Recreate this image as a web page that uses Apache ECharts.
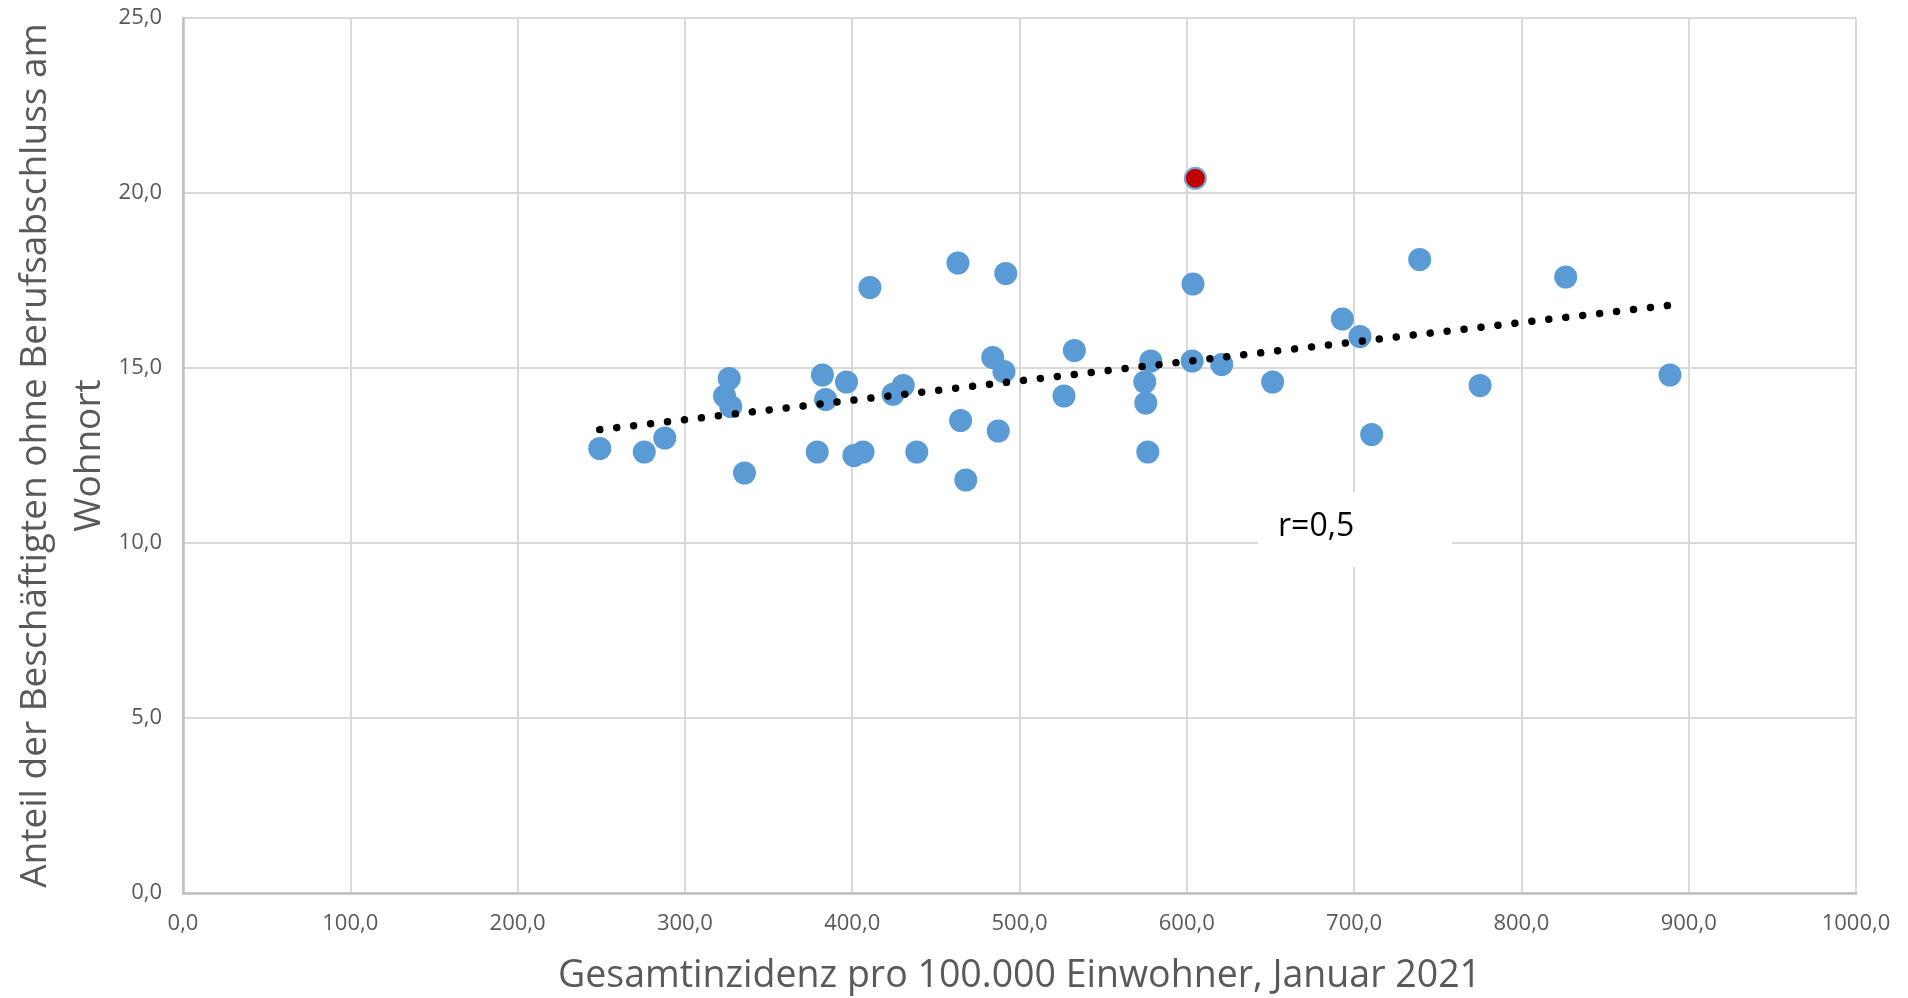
<!DOCTYPE html>
<html>
<head>
<meta charset="utf-8">
<script src="https://cdn.jsdelivr.net/npm/echarts@6/dist/echarts.min.js"></script>
<style>
html,body{margin:0;padding:0;background:#fff;}
#chart{width:1908px;height:998px;}
</style>
</head>
<body>
<div id="chart"></div>
<script>
// Gesamtinzidenz pro 100.000 Einwohner, Januar 2021
const incidence = [249.1, 275.7, 288.0, 323.7, 326.5, 327.4, 335.6, 379.1, 382.2, 384.1,
  396.6, 401.0, 406.5, 410.6, 424.4, 430.5, 438.6, 463.2, 464.8, 467.9,
  484.0, 487.3, 490.7, 491.8, 526.6, 532.8, 574.9, 575.5, 576.7, 578.5,
  603.7, 603.2, 620.9, 651.3, 693.0, 703.5, 710.5, 739.2, 775.3, 826.5, 888.8];
// Anteil der Beschäftigten ohne Berufsabschluss am Wohnort
const share = [12.7, 12.6, 13.0, 14.2, 14.7, 13.9, 12.0, 12.6, 14.8, 14.1,
  14.6, 12.5, 12.6, 17.3, 14.25, 14.5, 12.6, 18.0, 13.5, 11.8,
  15.3, 13.2, 14.9, 17.7, 14.2, 15.5, 14.6, 14.0, 12.6, 15.2,
  17.4, 15.2, 15.1, 14.6, 16.4, 15.9, 13.1, 18.1, 14.5, 17.6, 14.8];
// highlighted district (red)
const highlightIncidence = [605.1];
const highlightShare = [20.42];
// linear trend line endpoints
const trendIncidence = [249.1, 888.3];
const trendShare = [13.24, 16.79];
const correlationLabel = 'r=0,5';

const xTitle = 'Gesamtinzidenz pro 100.000 Einwohner, Januar 2021';
const yTitle = 'Anteil der Beschäftigten ohne Berufsabschluss am\nWohnort';

const FONT = '"Open Sans", "Liberation Sans", sans-serif';
const fmt = v => v.toFixed(1).replace('.', ',');

const chart = echarts.init(document.getElementById('chart'), null, {renderer: 'canvas'});

const pts = incidence.map((x, i) => [x, share[i]]);
const hiPts = highlightIncidence.map((x, i) => ({
  value: [x, highlightShare[i]],
  symbolSize: 21,
  itemStyle: {color: '#C00000', borderColor: '#6FA8DC', borderWidth: 2}
}));

const option = {
  animation: false,
  backgroundColor: '#ffffff',
  grid: {left: 183, right: 52, top: 18, bottom: 105, containLabel: false, outerBoundsMode: 'none'},
  xAxis: {
    type: 'value', min: 0, max: 1000, interval: 100,
    name: xTitle, nameLocation: 'middle', nameGap: 64, nameMoveOverlap: false,
    nameTextStyle: {fontFamily: FONT, fontSize: 37.5, color: '#595959'},
    axisLine: {show: true, lineStyle: {color: '#BFBFBF', width: 2.5}},
    axisTick: {show: false},
    axisLabel: {formatter: fmt, fontFamily: FONT, fontSize: 22, color: '#595959', margin: 20},
    splitLine: {show: true, lineStyle: {color: '#D9D9D9', width: 2}}
  },
  yAxis: {
    type: 'value', min: 0, max: 25, interval: 5,
    name: yTitle, nameLocation: 'middle', nameGap: 67, nameRotate: 90, nameMoveOverlap: false,
    nameTextStyle: {fontFamily: FONT, fontSize: 37, color: '#595959', lineHeight: 54, align: 'center'},
    axisLine: {show: true, lineStyle: {color: '#BFBFBF', width: 2.5}},
    axisTick: {show: false},
    axisLabel: {formatter: fmt, fontFamily: FONT, fontSize: 22, color: '#595959', margin: 21},
    splitLine: {show: true, lineStyle: {color: '#D9D9D9', width: 2}}
  },
  series: [
    {
      type: 'scatter', symbol: 'circle', symbolSize: 23,
      itemStyle: {color: '#5B9BD5', opacity: 1},
      data: pts.concat(hiPts), z: 2
    },
    {
      type: 'line', showSymbol: false, symbol: 'none', silent: true,
      data: trendIncidence.map((x, i) => [x, trendShare[i]]),
      lineStyle: {color: '#000000', width: 7.5, type: [0.001, 17.06], cap: 'round'},
      z: 3
    }
  ],
  graphic: [
    {
      type: 'rect', left: 1258, top: 492, z: 10,
      shape: {width: 194, height: 75},
      style: {fill: '#ffffff'}
    },
    {
      type: 'text', left: 1278, top: 511, z: 11,
      style: {text: correlationLabel, font: '32px "Open Sans", sans-serif', fill: '#000000'}
    }
  ]
};
chart.setOption(option);
</script>
</body>
</html>
